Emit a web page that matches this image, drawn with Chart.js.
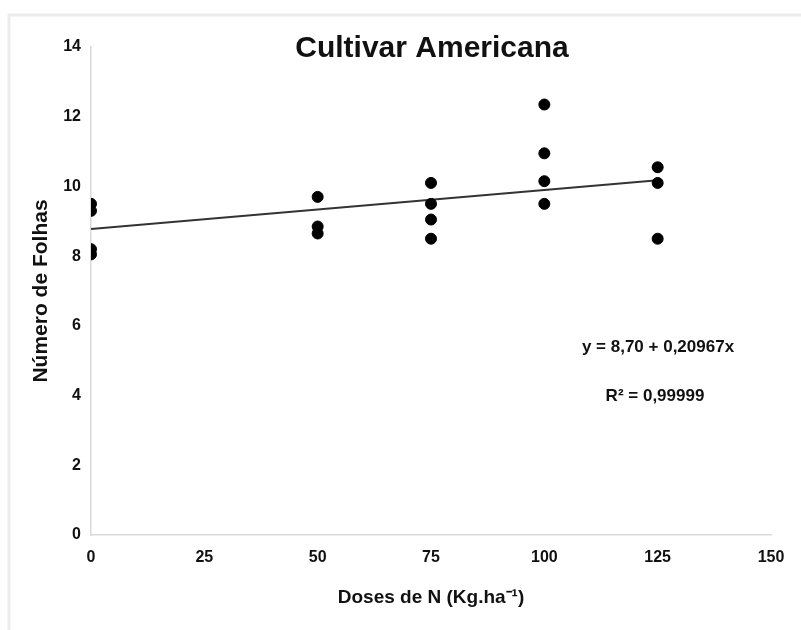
<!DOCTYPE html>
<html>
<head>
<meta charset="utf-8">
<style>
  html, body { margin: 0; padding: 0; background: #fff; }
  #wrap { width: 801px; height: 630px; }
</style>
<script src="https://cdn.jsdelivr.net/npm/chart.js@4/dist/chart.umd.min.js"></script>
</head>
<body>
<div id="wrap"><canvas id="myChart" width="801" height="630"></canvas></div>
<script>
  'use strict';

  // doses de N (kg/ha) and leaf counts
  var doses = [0, 50, 75, 100, 125];
  var folhas0 = [9.5, 9.3, 8.2, 8.05];
  var folhas50 = [9.7, 8.85, 8.65];
  var folhas75 = [10.1, 9.5, 9.05, 8.5];
  var folhas100 = [12.35, 10.95, 10.15, 9.5];
  var folhas125 = [10.55, 10.1, 8.5];
  var grupos = [folhas0, folhas50, folhas75, folhas100, folhas125];

  // trend line end points as drawn
  var tendX = [0, 125];
  var tendY = [8.78, 10.18];

  var xTicks = [0, 25, 50, 75, 100, 125, 150];
  var yTicks = [0, 2, 4, 6, 8, 10, 12, 14];

  var titulo = 'Cultivar Americana';
  var equacao = 'y = 8,70 + 0,20967x';
  var r2 = 'R\u00B2 = 0,99999';

  var pontos = [];
  grupos.forEach(function (g, i) {
    g.forEach(function (v) { pontos.push({ x: doses[i], y: v }); });
  });
  var linha = tendX.map(function (x, i) { return { x: x, y: tendY[i] }; });

  var FONT = 'Liberation Sans, Arial, sans-serif';

  // texts placed inside the plot like the original figure
  var textos = {
    id: 'textos',
    beforeDraw: function (chart) {
      var c = chart.ctx;
      c.save();
      c.fillStyle = '#fff';
      c.fillRect(0, 0, chart.width, chart.height);
      // faint frame of the original picture
      c.strokeStyle = '#ececec';
      c.lineWidth = 3;
      c.beginPath();
      c.moveTo(9, 630);
      c.lineTo(9, 15);
      c.lineTo(801, 15);
      c.stroke();
      c.restore();
    },
    afterDraw: function (chart) {
      var c = chart.ctx;
      var a = chart.chartArea;
      c.save();
      c.fillStyle = '#111';
      c.textAlign = 'center';
      c.textBaseline = 'middle';
      c.font = 'bold 30px ' + FONT;
      c.fillText(titulo, 432, a.top + 2);
      c.font = 'bold 17px ' + FONT;
      c.fillText(equacao, 658, a.top + 300);
      c.fillText(r2, 655, a.top + 349);
      c.restore();
    }
  };

  var ctx = document.getElementById('myChart').getContext('2d');
  var myChart = new Chart(ctx, {
    type: 'scatter',
    data: {
      datasets: [
        {
          label: 'Número de Folhas',
          data: pontos,
          backgroundColor: '#000',
          borderColor: '#000',
          pointRadius: 5.5,
          pointHoverRadius: 5.5,
          order: 1
        },
        {
          label: 'Tendência',
          type: 'line',
          data: linha,
          borderColor: '#333',
          borderWidth: 2,
          pointRadius: 0,
          fill: false,
          order: 2
        }
      ]
    },
    options: {
      responsive: false,
      animation: false,
      layout: { padding: { top: 47, right: 30, left: 0, bottom: 0 } },
      plugins: {
        legend: { display: false },
        tooltip: { enabled: false }
      },
      scales: {
        x: {
          type: 'linear',
          min: 0,
          max: 150,
          afterBuildTicks: function (s) { s.ticks = xTicks.map(function (v) { return { value: v }; }); },
          afterFit: function (s) { s.height = 95; },
          grid: { display: false, drawTicks: false },
          border: { display: true, color: '#d9d9d9', width: 1.5 },
          ticks: { padding: 13, color: '#111', font: { family: FONT, size: 16, weight: 'bold' } },
          title: {
            display: true,
            text: 'Doses de N (Kg.ha\u207B\u00B9)',
            color: '#111',
            font: { family: FONT, size: 19, weight: 'bold' },
            padding: 21
          }
        },
        y: {
          min: 0,
          max: 14,
          afterBuildTicks: function (s) { s.ticks = yTicks.map(function (v) { return { value: v }; }); },
          afterFit: function (s) { s.width = 91; },
          grid: { display: false, drawTicks: false },
          border: { display: true, color: '#d9d9d9', width: 1.5 },
          ticks: { padding: 10, color: '#111', font: { family: FONT, size: 16, weight: 'bold' } },
          title: {
            display: true,
            text: 'Número de Folhas',
            color: '#111',
            font: { family: FONT, size: 21, weight: 'bold' },
            padding: 29
          }
        }
      }
    },
    plugins: [textos]
  });
</script>
</body>
</html>
